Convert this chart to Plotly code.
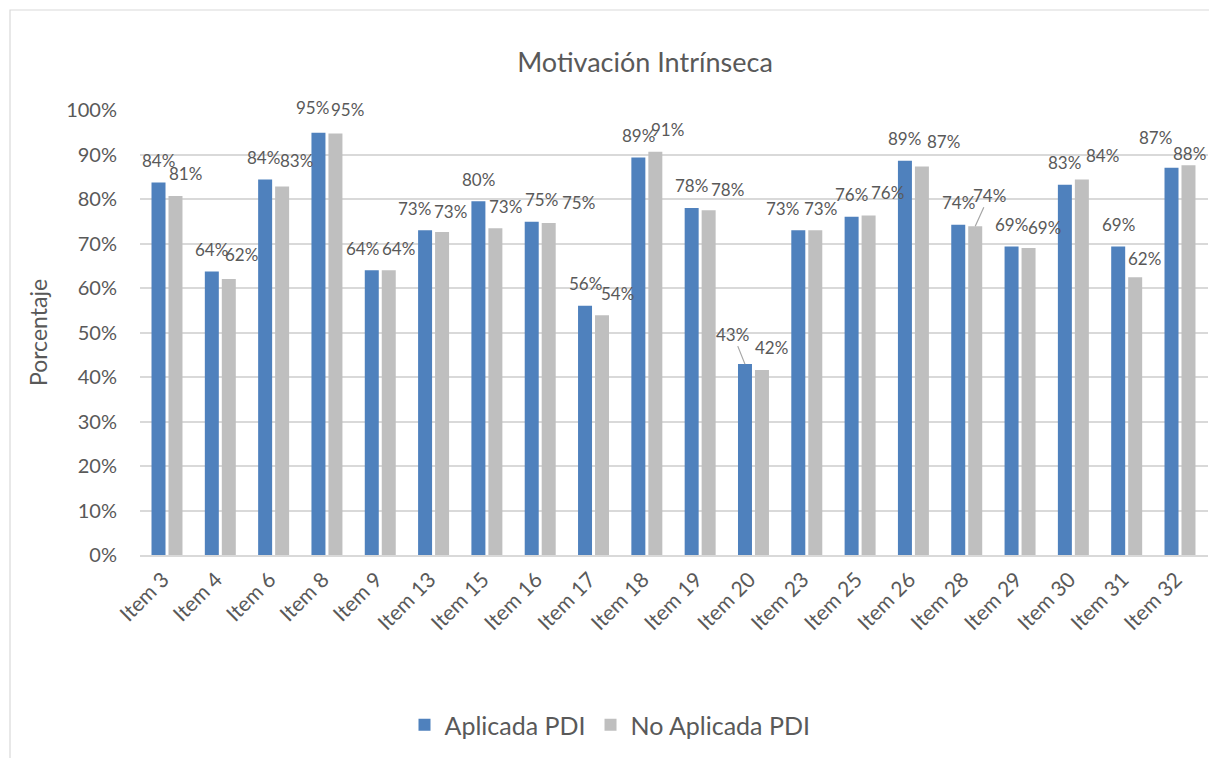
import plotly.graph_objects as go

# ---------------- data ----------------
items = ["Item 3", "Item 4", "Item 6", "Item 8", "Item 9", "Item 13", "Item 15",
         "Item 16", "Item 17", "Item 18", "Item 19", "Item 20", "Item 23", "Item 25",
         "Item 26", "Item 28", "Item 29", "Item 30", "Item 31", "Item 32"]
aplicada = [83.7, 63.7, 84.4, 94.9, 64.0, 73.0, 79.5, 74.9, 56.0, 89.3,
            78.0, 42.9, 73.0, 76.0, 88.6, 74.2, 69.3, 83.2, 69.3, 87.0]
no_aplicada = [80.7, 62.0, 82.8, 94.7, 64.0, 72.6, 73.4, 74.6, 53.9, 90.6,
               77.5, 41.6, 73.0, 76.3, 87.3, 73.9, 69.0, 84.4, 62.4, 87.6]
series_names = ["Aplicada PDI", "No Aplicada PDI"]
y_ticks = list(range(0, 101, 10))
y_ticktext = [f"{v}%" for v in y_ticks]

# ---------------- style ----------------
BLUE = "#4F81BD"
GRAY = "#BFBFBF"
TXT = "#595959"
GRID = "#D9D9D9"
FONT = "Lato"

W, H = 1209, 758
ML, MR, MT, MB = 140, 1, 110, 203
BAR_OFF = 8.5          # px offset of each bar centre from category centre
LBL_DY = 22            # default label lift above bar top (px)
LBL_DX = [0, 10]       # default horizontal nudge per series (px)
# per-label nudges (dx, dy) in pixels, keyed by (item, series index)
NUDGE = {
    ("Item 4", 1): (3, -3), ("Item 6", 0): (-2, 0), ("Item 6", 1): (4, -4),
    ("Item 8", 0): (-6, -3), ("Item 8", 1): (2, -2), ("Item 9", 0): (-9, 0),
    ("Item 13", 0): (-11, 0), ("Item 13", 1): (-2, 2), ("Item 16", 0): (10, 0),
    ("Item 16", 1): (20, 1), ("Item 17", 1): (5, 0), ("Item 18", 1): (2, 0),
    ("Item 19", 1): (9, 1), ("Item 23", 0): (-16, 0), ("Item 23", 1): (-5, 0),
    ("Item 25", 1): (9, -1), ("Item 26", 1): (12, -3), ("Item 29", 1): (6, 2),
    ("Item 30", 1): (11, -2), ("Item 31", 1): (-1, 3), ("Item 32", 0): (-16, -8),
    ("Item 32", 1): (-9, 10),
}
ARROWS = {("Item 20", 0): (-12, -30), ("Item 28", 1): (14, -31)}
LBL_SIZE = 17

fig = go.Figure()
for vals, name, col in [(aplicada, series_names[0], BLUE), (no_aplicada, series_names[1], GRAY)]:
    fig.add_trace(go.Bar(x=items, y=vals, name=name, marker=dict(color=col, line=dict(width=0)),
                         hoverinfo="x+y"))

annotations = []
for s, vals in enumerate([aplicada, no_aplicada]):
    off = -BAR_OFF if s == 0 else BAR_OFF
    for it, v in zip(items, vals):
        txt = f"{round(v):d}%"
        if (it, s) in ARROWS:
            ax, ay = ARROWS[(it, s)]
            annotations.append(dict(x=it, y=v, xref="x", yref="y", text=txt, showarrow=True,
                                    ax=ax, ay=ay, arrowhead=0, arrowwidth=1.2, arrowcolor="#A6A6A6",
                                    standoff=0, xshift=off,
                                    font=dict(family=FONT, size=LBL_SIZE, color=TXT)))
        else:
            dx, dy = NUDGE.get((it, s), (0, 0))
            annotations.append(dict(x=it, y=v, xref="x", yref="y", text=txt, showarrow=False,
                                    xshift=off + LBL_DX[s] + dx, yshift=LBL_DY - dy,
                                    xanchor="center", yanchor="middle",
                                    font=dict(family=FONT, size=LBL_SIZE, color=TXT)))

pw = W - ML - MR
ph = H - MT - MB
shapes = [dict(type="rect", xref="paper", yref="paper",
               x0=(10 - ML) / pw, x1=(W + 20 - ML) / pw,
               y0=-(H + 20 - MT - ph) / ph, y1=1 + (MT - 10) / ph,
               line=dict(color=GRID, width=1.2), fillcolor="rgba(0,0,0,0)", layer="below")]

fig.update_layout(
    width=W, height=H,
    margin=dict(l=ML, r=MR, t=MT, b=MB, pad=0),
    paper_bgcolor="white", plot_bgcolor="white",
    barmode="group", bargap=0.363, bargroupgap=0.176,
    title=dict(text="Motivación Intrínseca", x=645 / W, xref="container", xanchor="center",
               y=1 - 63 / H, yref="container", yanchor="middle",
               font=dict(family=FONT, size=27, color=TXT)),
    xaxis=dict(tickangle=-45, tickfont=dict(family=FONT, size=21, color=TXT),
               showgrid=False, showline=True, linecolor=GRID, linewidth=2,
               ticks="", ticklen=0, ticklabelshift=-4, ticklabelstandoff=2),
    yaxis=dict(range=[0, 100], tickmode="array", tickvals=y_ticks, ticktext=y_ticktext,
               tickfont=dict(family=FONT, size=20, color=TXT),
               showgrid=True, gridcolor=GRID, gridwidth=1.5, zeroline=False,
               showline=False, ticks="", ticklabelstandoff=22,
               title=dict(text="Porcentaje", font=dict(family=FONT, size=23, color=TXT), standoff=12)),
    legend=dict(orientation="h", x=(610 - ML) / pw, xanchor="center",
                y=(MT + ph - 725) / ph, yanchor="middle",
                font=dict(family=FONT, size=25, color=TXT), itemwidth=30,
                traceorder="normal"),
    annotations=annotations,
    shapes=shapes,
    showlegend=True,
)

fig.write_html("out.html", config={"displayModeBar": False},
               post_script="document.body.style.margin='0';document.body.style.padding='0';")
